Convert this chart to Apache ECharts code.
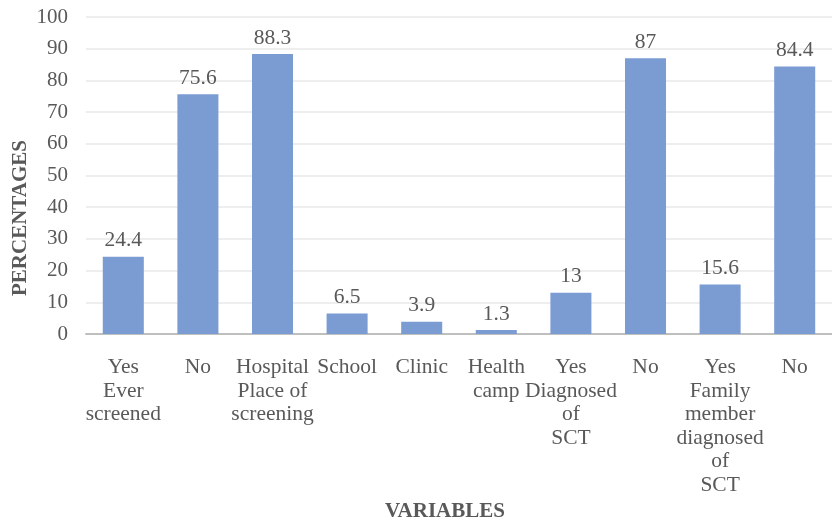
<!DOCTYPE html>
<html>
<head>
<meta charset="utf-8">
<script src="https://cdn.jsdelivr.net/npm/echarts@6/dist/echarts.min.js"></script>
<style>
  html, body { margin: 0; padding: 0; background: #ffffff; }
  #chart { width: 832px; height: 521px; }
</style>
</head>
<body>
<div id="chart"></div>
<script>
// Screening survey responses (percent of respondents)
const categories = [
  'Yes\nEver\nscreened',
  'No',
  'Hospital\nPlace of\nscreening',
  'School',
  'Clinic',
  'Health\ncamp',
  'Yes\nDiagnosed\nof\nSCT',
  'No',
  'Yes\nFamily\nmember\ndiagnosed\nof\nSCT',
  'No'
];
const percentages = [24.4, 75.6, 88.3, 6.5, 3.9, 1.3, 13, 87, 15.6, 84.4];
const yTicks = { min: 0, max: 100, step: 10 };

const serif = '"Liberation Serif", "Times New Roman", serif';
const textGrey = '#595959';

const chart = echarts.init(document.getElementById('chart'), null, { renderer: 'canvas' });
chart.setOption({
  animation: false,
  backgroundColor: '#ffffff',
  grid: { left: 86, top: 17, width: 756, height: 317, containLabel: false },
  xAxis: {
    type: 'category',
    data: categories,
    axisLine: { show: true, lineStyle: { color: '#bfbfbf', width: 2 } },
    axisTick: { show: false },
    axisLabel: {
      interval: 0,
      margin: 22,
      color: textGrey,
      fontFamily: serif,
      fontSize: 21.5,
      lineHeight: 23.5,
      align: 'center'
    }
  },
  yAxis: {
    type: 'value',
    min: yTicks.min,
    max: yTicks.max,
    interval: yTicks.step,
    axisLine: { show: false },
    axisTick: { show: false },
    splitLine: { lineStyle: { color: '#e8e8e8', width: 1.5 } },
    axisLabel: {
      margin: 18,
      color: textGrey,
      fontFamily: serif,
      fontSize: 21,
      padding: [3, 0, 0, 0]
    }
  },
  series: [{
    type: 'bar',
    data: percentages,
    barWidth: '55%',
    itemStyle: { color: '#7b9cd3' },
    label: {
      show: true,
      position: 'top',
      distance: 5,
      color: textGrey,
      fontFamily: serif,
      fontSize: 21.5
    }
  }],
  graphic: [
    {
      type: 'text',
      x: 445,
      y: 512,
      style: {
        text: 'VARIABLES',
        fontFamily: serif,
        fontWeight: 'bold',
        fontSize: 21,
        fill: textGrey,
        align: 'center',
        verticalAlign: 'middle'
      }
    },
    {
      type: 'text',
      x: 21,
      y: 218,
      rotation: Math.PI / 2,
      style: {
        text: 'PERCENTAGES',
        fontFamily: serif,
        fontWeight: 'bold',
        fontSize: 21,
        fill: textGrey,
        align: 'center',
        verticalAlign: 'middle'
      }
    }
  ]
});
</script>
</body>
</html>
